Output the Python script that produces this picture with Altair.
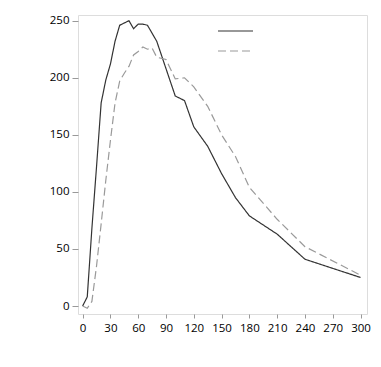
import altair as alt
import pandas as pd

# Series A (solid, dark)
time_a = [0, 5, 10, 15, 20, 25, 30, 35, 40, 50, 55, 60, 65, 70, 80, 90, 100, 110, 120, 135, 150, 165, 180, 210, 240, 300]
conc_a = [0, 8, 68, 122, 178, 198, 212, 232, 246, 250, 243, 247, 247, 246, 232, 208, 184, 180, 157, 140, 116, 95, 79, 63, 41, 25]

# Series B (dashed, gray)
time_b = [0, 5, 10, 15, 20, 25, 30, 35, 40, 45, 50, 55, 60, 65, 70, 75, 80, 90, 100, 110, 120, 135, 150, 165, 180, 210, 240, 300]
conc_b = [0, -2, 4, 35, 72, 110, 145, 178, 197, 204, 210, 220, 223, 227, 225, 226, 218, 216, 199, 200, 192, 175, 150, 131, 104, 76, 52, 27]

series_names = ["A", "B"]
x_ticks = [0, 30, 60, 90, 120, 150, 180, 210, 240, 270, 300]
y_ticks = [0, 50, 100, 150, 200, 250]

rows = [{"t": t, "c": c, "s": series_names[0]} for t, c in zip(time_a, conc_a)]
rows += [{"t": t, "c": c, "s": series_names[1]} for t, c in zip(time_b, conc_b)]
df = pd.DataFrame(rows)

FONT = "Open Sans"

lines = alt.Chart(df).mark_line(strokeWidth=1.2, interpolate="linear").encode(
    x=alt.X("t:Q", scale=alt.Scale(domain=[-5, 307], nice=False, zero=False),
            axis=alt.Axis(values=x_ticks, title=None, grid=False, domain=False,
                          tickColor="#999", tickSize=4, labelPadding=4,
                          labelFont=FONT, labelFontSize=11.5, labelColor="#000")),
    y=alt.Y("c:Q", scale=alt.Scale(domain=[-7, 255], nice=False, zero=False),
            axis=alt.Axis(values=y_ticks, title=None, grid=False, domain=False,
                          tickColor="#999", tickSize=6, labelPadding=3,
                          labelFont=FONT, labelFontSize=11.5, labelColor="#000")),
    color=alt.Color("s:N", scale=alt.Scale(domain=series_names, range=["#333333", "#9a9a9a"]), legend=None),
    strokeDash=alt.StrokeDash("s:N", scale=alt.Scale(domain=series_names, range=[[1, 0], [8, 4]]), legend=None),
    detail="s:N",
)

leg_solid = alt.Chart(pd.DataFrame({"k": [0]})).mark_rule(color="#333333", strokeWidth=1.2).encode(
    x=alt.value(140), x2=alt.value(175), y=alt.value(16))
leg_dash = alt.Chart(pd.DataFrame({"k": [0]})).mark_rule(color="#9a9a9a", strokeWidth=1.2, strokeDash=[8, 4]).encode(
    x=alt.value(140), x2=alt.value(175), y=alt.value(36))

chart = alt.layer(lines, leg_solid, leg_dash).properties(
    width=289, height=299,
    autosize=alt.AutoSizeParams(type="none"),
    padding={"left": 70, "top": 7, "right": 6, "bottom": 40},
).configure_view(stroke="#999999", strokeWidth=1).configure(background="white")

chart.save("out.html", embed_options={"renderer": "svg", "actions": False})
